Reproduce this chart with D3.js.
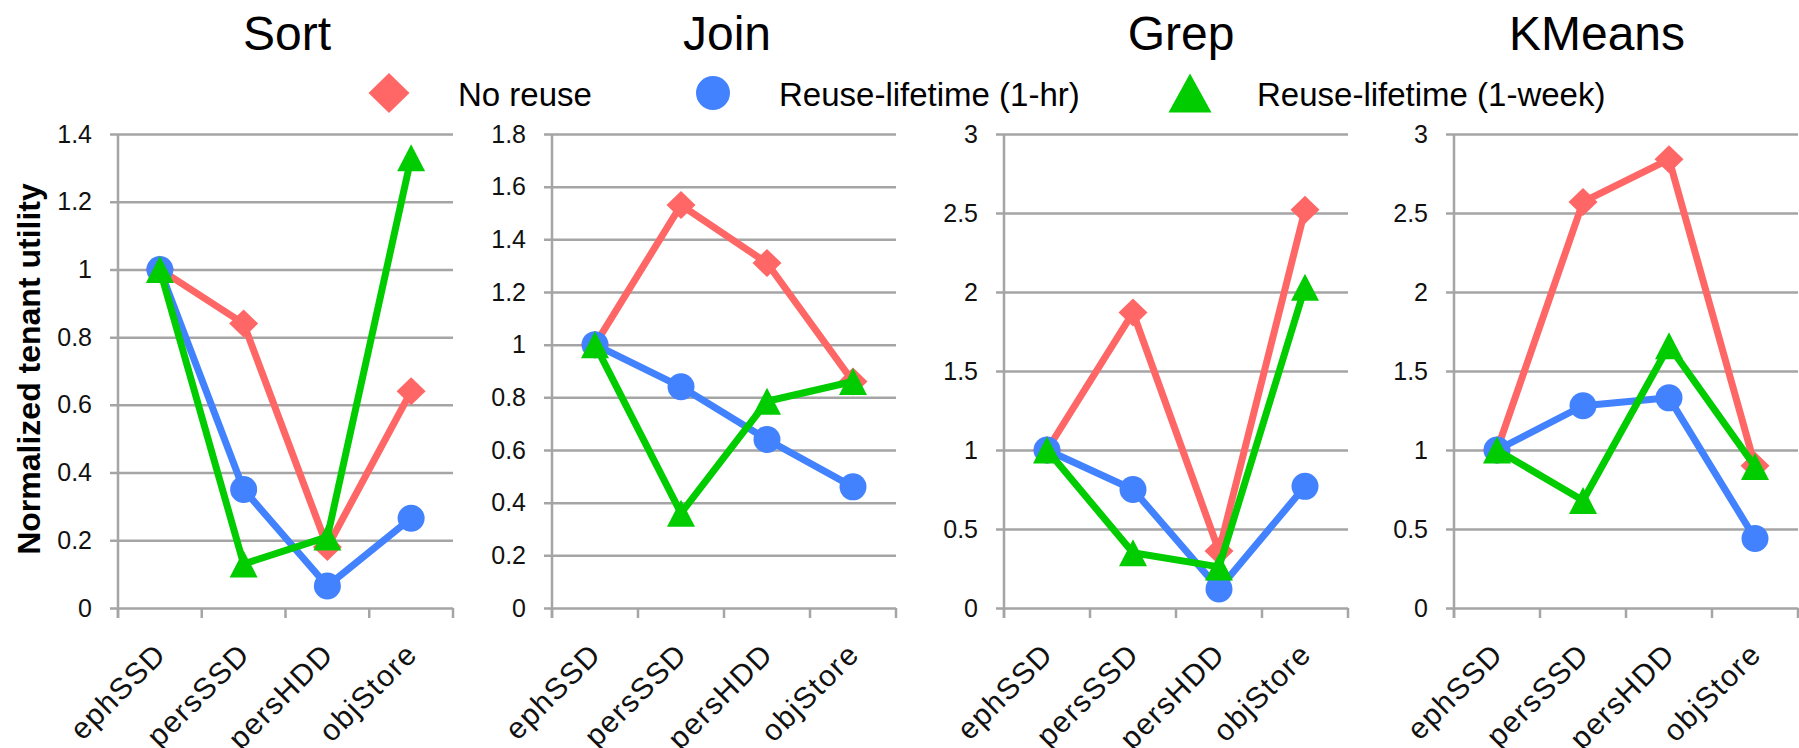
<!DOCTYPE html>
<html>
<head>
<meta charset="utf-8">
<script src="https://cdn.jsdelivr.net/npm/d3@7"></script>
<style>
  html, body { margin: 0; padding: 0; background: #fff; }
  svg { display: block; font-family: "Liberation Sans", Arial, sans-serif; }
</style>
</head>
<body>
<svg id="chart" width="1799" height="748"></svg>
<script>
// ---- data ----
const categories = ["ephSSD", "persSSD", "persHDD", "objStore"];
const panelTitles = ["Sort", "Join", "Grep", "KMeans"];
const seriesNames = ["No reuse", "Reuse-lifetime (1-hr)", "Reuse-lifetime (1-week)"];
const yMax = [1.4, 1.8, 3, 3];
const yStep = [0.2, 0.2, 0.5, 0.5];

const sortNoReuse   = [1.0, 0.84, 0.18, 0.64];
const sortHour      = [1.0, 0.35, 0.065, 0.265];
const sortWeek      = [1.0, 0.13, 0.21, 1.33];

const joinNoReuse   = [1.0, 1.53, 1.31, 0.86];
const joinHour      = [1.0, 0.84, 0.64, 0.46];
const joinWeek      = [1.0, 0.36, 0.785, 0.86];

const grepNoReuse   = [1.0, 1.87, 0.36, 2.52];
const grepHour      = [1.0, 0.75, 0.12, 0.77];
const grepWeek      = [1.0, 0.35, 0.26, 2.03];

const kmeansNoReuse = [1.0, 2.57, 2.84, 0.90];
const kmeansHour    = [1.0, 1.28, 1.33, 0.44];
const kmeansWeek    = [1.0, 0.68, 1.66, 0.895];

const panelData = [
  [sortNoReuse, sortHour, sortWeek],
  [joinNoReuse, joinHour, joinWeek],
  [grepNoReuse, grepHour, grepWeek],
  [kmeansNoReuse, kmeansHour, kmeansWeek]
];

// ---- layout / style ----
const colors = ["#FF6666", "#4282FF", "#00CC00"];
const shapes = ["diamond", "circle", "triangle"];
const plotLeft  = [118, 552, 1004, 1454];
const plotRight = [453, 896, 1348, 1798];
const titleX    = [287, 727, 1181, 1597];
const plotTop = 134, plotBottom = 608;
const gridColor = "#A5A5A5";

const svg = d3.select("#chart");
svg.append("rect").attr("width", 1799).attr("height", 748).attr("fill", "#fff");

function markerPath(shape, w, h) {
  const p = d3.path();
  if (shape === "diamond") {
    p.moveTo(0, -h / 2); p.lineTo(w / 2, 0); p.lineTo(0, h / 2); p.lineTo(-w / 2, 0); p.closePath();
  } else if (shape === "triangle") {
    p.moveTo(0, -h / 2); p.lineTo(w / 2, h / 2); p.lineTo(-w / 2, h / 2); p.closePath();
  } else {
    p.arc(0, 0, w / 2, 0, 2 * Math.PI);
  }
  return p.toString();
}
const markerSize = [[29, 28], [27, 27], [28, 27]];
const legendSize = [[41, 40], [34, 34], [43, 39]];

panelData.forEach((series, pi) => {
  const x = d3.scaleBand().domain(categories).range([plotLeft[pi], plotRight[pi]]).padding(0);
  const y = d3.scaleLinear().domain([0, yMax[pi]]).range([plotBottom, plotTop]);
  const ticks = d3.range(0, yMax[pi] + 1e-9, yStep[pi]).map(v => +v.toFixed(2));
  const g = svg.append("g");

  // horizontal gridlines + tick labels via axis
  const yAxis = d3.axisLeft(y).tickValues(ticks)
    .tickFormat(d => String(+d.toFixed(1)));
  const ya = g.append("g").attr("transform", `translate(${plotLeft[pi]},0)`).call(yAxis);
  ya.select(".domain").remove();
  ya.selectAll(".tick line").attr("x1", -8).attr("x2", plotRight[pi] - plotLeft[pi])
    .attr("stroke", gridColor).attr("stroke-width", 2.5);
  ya.selectAll(".tick text").attr("x", -26).attr("font-size", 25).attr("fill", "#111")
    .attr("font-family", "Liberation Sans, Arial, sans-serif");

  // y axis line
  g.append("line").attr("x1", plotLeft[pi]).attr("x2", plotLeft[pi])
    .attr("y1", plotTop).attr("y2", plotBottom + 10)
    .attr("stroke", gridColor).attr("stroke-width", 2.5);

  // x axis ticks at band boundaries
  const bounds = categories.map(c => x(c)).concat([x.range()[1]]);
  g.selectAll("line.xt").data(bounds).enter().append("line")
    .attr("x1", d => d).attr("x2", d => d).attr("y1", plotBottom).attr("y2", plotBottom + 10)
    .attr("stroke", gridColor).attr("stroke-width", 2.5);

  // x labels
  g.selectAll("text.xl").data(categories).enter().append("text")
    .attr("transform", d => `translate(${x(d) + x.bandwidth() / 2 + 8},${plotBottom + 48}) rotate(-45)`)
    .attr("text-anchor", "end").attr("font-size", 30).attr("letter-spacing", 1.5).attr("fill", "#111")
    .text(d => d);

  // title
  svg.append("text").attr("x", titleX[pi]).attr("y", 50).attr("text-anchor", "middle")
    .attr("font-size", 48).attr("fill", "#000").text(panelTitles[pi]);

  // series
  series.forEach((vals, si) => {
    const pts = vals.map((v, i) => [x(categories[i]) + x.bandwidth() / 2, y(v)]);
    g.append("path").attr("d", d3.line()(pts)).attr("fill", "none")
      .attr("stroke", colors[si]).attr("stroke-width", 7).attr("stroke-linejoin", "round");
    g.selectAll(null).data(pts).enter().append("path")
      .attr("transform", d => `translate(${d[0]},${d[1]})`)
      .attr("d", markerPath(shapes[si], markerSize[si][0], markerSize[si][1]))
      .attr("fill", colors[si]);
  });
});

// y axis label
svg.append("text").attr("transform", "translate(40,369) rotate(-90)")
  .attr("text-anchor", "middle").attr("font-size", 32).attr("font-weight", "bold")
  .attr("fill", "#000").text("Normalized tenant utility");

// legend
const legendMarkerX = [389, 713, 1190];
const legendTextX = [458, 779, 1257];
seriesNames.forEach((name, si) => {
  svg.append("path").attr("transform", `translate(${legendMarkerX[si]},93)`)
    .attr("d", markerPath(shapes[si], legendSize[si][0], legendSize[si][1]))
    .attr("fill", colors[si]);
  svg.append("text").attr("x", legendTextX[si]).attr("y", 106).attr("font-size", 33)
    .attr("fill", "#000").text(name);
});
</script>
</body>
</html>
